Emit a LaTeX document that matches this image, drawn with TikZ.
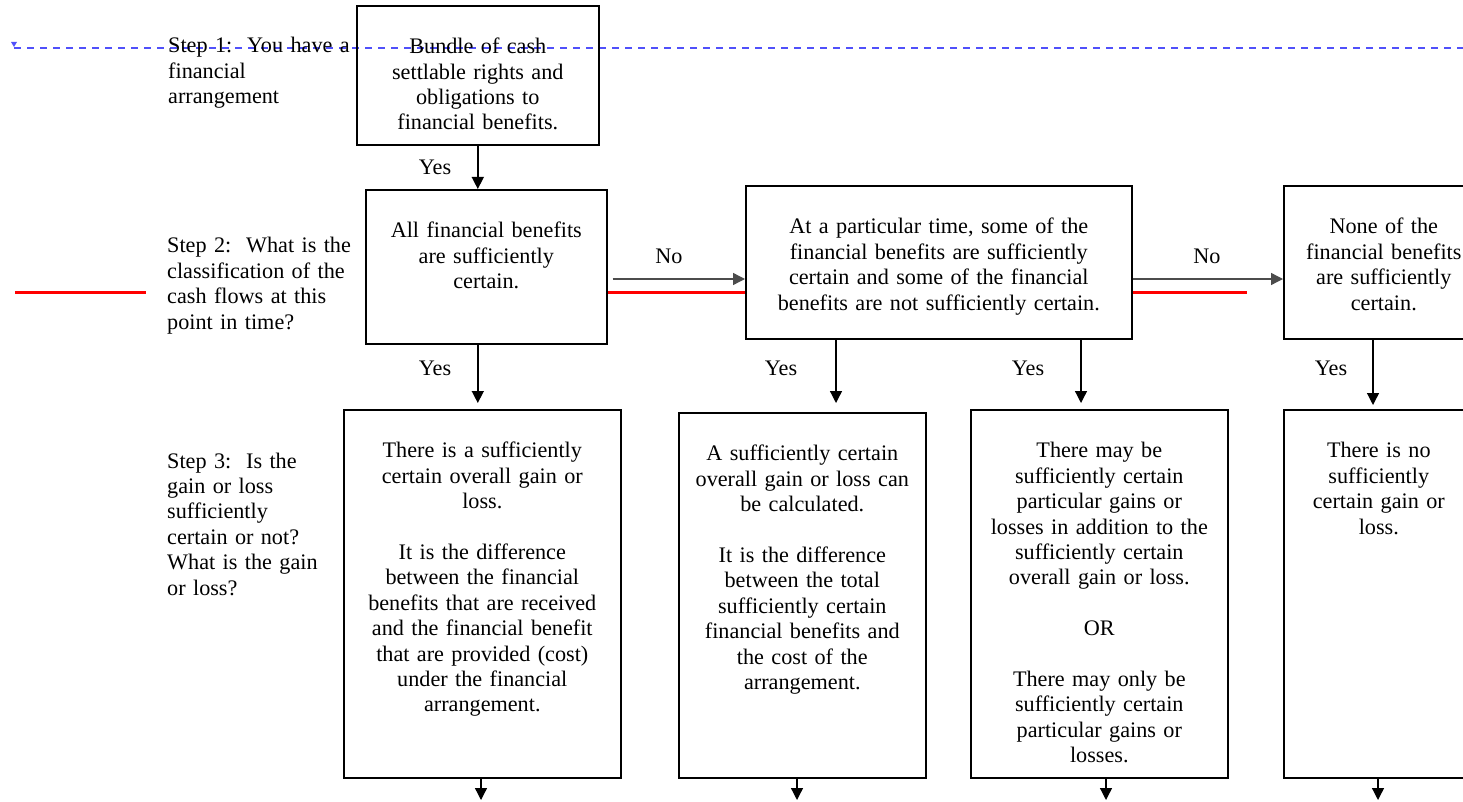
\documentclass[tikz,border=0pt]{standalone}
\usepackage{fontspec}
\setmainfont{Liberation Serif}
\usetikzlibrary{arrows.meta}
\definecolor{guideblue}{RGB}{80,80,250}
\definecolor{linkred}{RGB}{255,0,0}

\begin{document}
\begin{tikzpicture}[
    x=1pt, y=-1pt,
    every node/.style={font=\fontsize{22.2}{25.4}\selectfont},
    box/.style={draw, line width=1.6pt, align=center, inner sep=0pt, anchor=north west, text height=48pt},
    steptext/.style={align=left, inner sep=0pt, anchor=base west, text width=200pt},
    answer/.style={inner sep=0pt, anchor=base},
    arrow/.style={-{Triangle[length=12pt,width=12pt]}, line width=1.5pt},
    noarrow/.style={arrow, line width=1.3pt, draw=black!70},
    redline/.style={draw=linkred, line width=3pt}
  ]
    \clip (0,0) rectangle (1463,802);
    % guide line
    \draw[guideblue, line width=1.2pt, dash pattern=on 7pt off 6pt] (14,48) -- (1463,48);
    \fill[guideblue] (11,42) -- (17,42) -- (14,47) -- cycle;

    % step texts
    \node[steptext] (s1) at (168,53) {Step 1:\ \ You have a\\financial\\arrangement};
    \node[steptext] (s2) at (167,253) {Step 2:\ \ What is the\\classification of the\\cash flows at this\\point in time?};
    \node[steptext] (s3) at (167,468) {Step 3:\ \ Is the\\gain or loss\\sufficiently\\certain or not?\\What is the gain\\or loss?};

    % boxes
    \node[box, text width=242pt, text depth=91pt] (b1) at (356,5) {Bundle of cash\\settlable rights and\\obligations to\\financial benefits.};
    \node[box, text width=241pt, text depth=106pt] (b2) at (365,189) {All financial benefits\\are sufficiently\\certain.};
    \node[box, text width=386pt, text depth=105pt] (b3) at (745,185) {At a particular time, some of the\\financial benefits are sufficiently\\certain and some of the financial\\benefits are not sufficiently certain.};
    \node[box, text width=200pt, text depth=105pt] (b4) at (1283,185) {None of the\\financial benefits\\are sufficiently\\certain.};
    \node[box, text width=277pt, text depth=320pt] (b5) at (343,409) {There is a sufficiently\\certain overall gain or\\loss.\\[25.4pt]It is the difference\\between the financial\\benefits that are received\\and the financial benefit\\that are provided (cost)\\under the financial\\arrangement.};
    \node[box, text width=247pt, text depth=317pt] (b6) at (678,412) {A sufficiently certain\\overall gain or loss can\\be calculated.\\[25.4pt]It is the difference\\between the total\\sufficiently certain\\financial benefits and\\the cost of the\\arrangement.};
    \node[box, text width=257pt, text depth=320pt] (b7) at (970,409) {There may be\\sufficiently certain\\particular gains or\\losses in addition to the\\sufficiently certain\\overall gain or loss.\\[25.4pt]OR\\[25.4pt]There may only be\\sufficiently certain\\particular gains or\\losses.};
    \node[box, text width=190pt, text depth=320pt] (b8) at (1283,409) {There is no\\sufficiently\\certain gain or\\loss.};

    % answers
    \node[answer] (y1) at (435,175) {Yes};
    \node[answer] (y2) at (435,375) {Yes};
    \node[answer] (y3) at (781,375) {Yes};
    \node[answer] (y4) at (1028,375) {Yes};
    \node[answer] (y5) at (1331,375) {Yes};
    \node[answer] (n1) at (669,263) {No};
    \node[answer] (n2) at (1207,263) {No};

    % red links
    \draw[redline] (15,292) -- (146,292);
    \draw[redline] (b2.east |- 0,292) -- (b3.west |- 0,292);
    \draw[redline] (b3.east |- 0,292) -- (1247,292);

    % arrows
    \coordinate (c3) at (836,0);
    \coordinate (c4) at (1081,0);
    \coordinate (c5) at (1373,0);
    \coordinate (e5) at (481,800);
    \coordinate (e6) at (797,800);
    \coordinate (e7) at (1106,800);
    \coordinate (e8) at (1378,800);
    \draw[arrow] (b1.south) -- (b1.south |- b2.north);
    \draw[arrow, shorten >=6pt] (b2.south -| b1.south) -- (b5.north -| b1.south);
    \draw[noarrow, shorten <=5pt] (b2.east |- 0,279) -- (b3.west |- 0,279);
    \draw[noarrow] (b3.east |- 0,279) -- (b4.west |- 0,279);
    \draw[arrow, line width=1.3pt, shorten >=9pt] (b3.south -| c3) -- (b6.north -| c3);
    \draw[arrow, line width=1.3pt, shorten >=6pt] (b3.south -| c4) -- (b7.north -| c4);
    \draw[arrow, line width=1.3pt, shorten >=4pt] (b4.south -| c5) -- (b8.north -| c5);
    \draw[arrow, line width=1.3pt] (b5.south -| e5) -- (e5);
    \draw[arrow, line width=1.3pt] (b6.south -| e6) -- (e6);
    \draw[arrow, line width=1.3pt] (b7.south -| e7) -- (e7);
    \draw[arrow, line width=1.3pt] (b8.south -| e8) -- (e8);
  \end{tikzpicture}
\end{document}
